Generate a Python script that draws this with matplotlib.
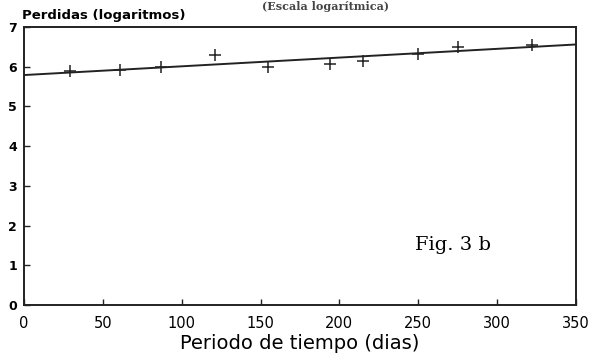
import matplotlib
matplotlib.use("Agg")
import matplotlib.pyplot as plt

# Data
days = [29, 61, 87, 121, 155, 194, 215, 250, 275, 322]
log_losses = [5.89, 5.92, 5.99, 6.29, 6.00, 6.08, 6.14, 6.33, 6.49, 6.55]
fit_x = [0, 350]
fit_y = [5.79, 6.56]
x_ticks = [0, 50, 100, 150, 200, 250, 300, 350]
y_ticks = [0, 1, 2, 3, 4, 5, 6, 7]

fig = plt.figure(figsize=(5.92, 3.56), dpi=100)
ax = fig.add_axes([24/592, 1-305/356, 552/592, 278/356])

ax.plot(fit_x, fit_y, color="#222222", lw=1.4)
ax.plot(days, log_losses, linestyle="none", marker="+", markersize=8,
        mew=1.1, color="#222222")

ax.set_xlim(0, 350)
ax.set_ylim(0, 7)
ax.set_xticks(x_ticks)
ax.set_yticks(y_ticks)
ax.tick_params(direction="in", length=4, width=1, color="#222222")
ax.tick_params(axis="x", labelsize=10.5, pad=8)
ax.tick_params(axis="y", labelsize=9, pad=5)
for lab in ax.get_yticklabels():
    lab.set_fontweight("bold")
for s in ax.spines.values():
    s.set_linewidth(1.4)
    s.set_color("#222222")

ax.set_xlabel("Periodo de tiempo (dias)", fontsize=14, labelpad=2)

fig.text(22/592, 1-15/356, "Perdidas (logaritmos)", fontsize=9.5,
         fontweight="bold", ha="left", va="center")
fig.text(325/592, 1-1/356, "(Escala logarítmica)", fontsize=8,
         family="DejaVu Serif", fontweight="bold", ha="center",
         va="top", color="#444444")
ax.text(0.708, 0.215, "Fig. 3 b", transform=ax.transAxes,
        family="DejaVu Serif", fontsize=14, ha="left", va="center")

fig.savefig("out.png", dpi=100)
